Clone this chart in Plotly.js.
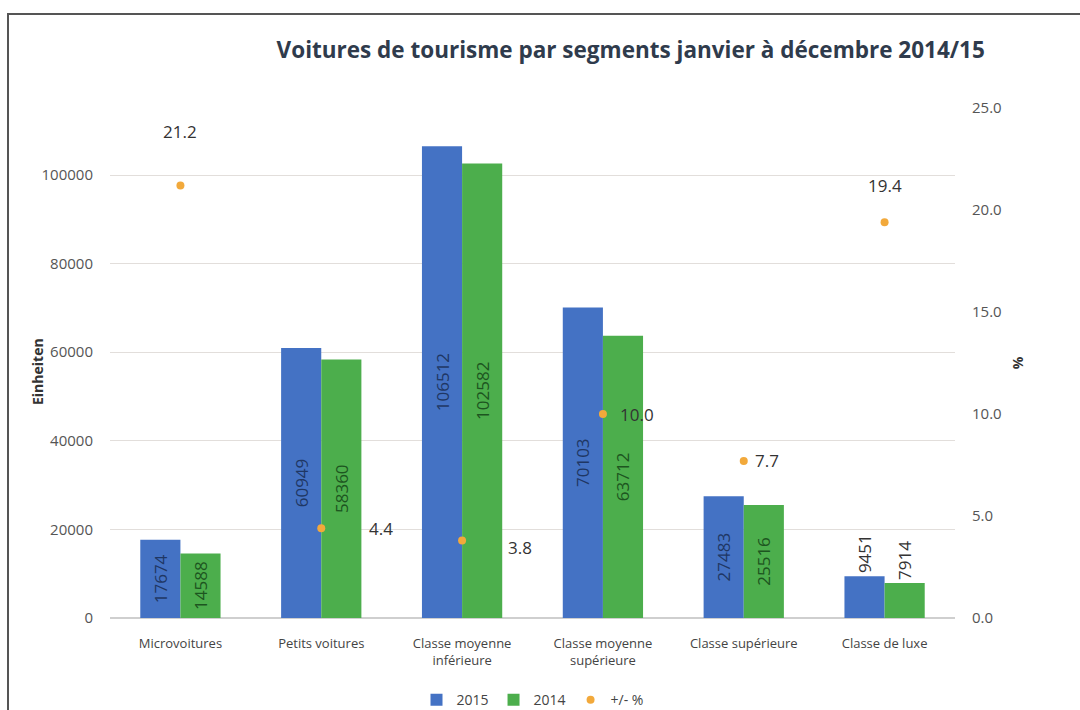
<!DOCTYPE html>
<html>
<head>
<meta charset="utf-8">
<script src="https://cdn.plot.ly/plotly-3.0.1.min.js"></script>
<style>
  html, body { margin: 0; padding: 0; background: #fff; }
  #chart { width: 1080px; height: 710px; }
  #frame { position: absolute; left: 7px; top: 13px; width: 1080px; height: 710px;
           border-left: 2px solid #555; border-top: 2px solid #555; pointer-events: none; }
</style>
</head>
<body>
<div id="chart"></div>
<div id="frame"></div>
<script>
// ---- data ----
const categories = ["Microvoitures", "Petits voitures", "Classe moyenne<br>inférieure",
                    "Classe moyenne<br>supérieure", "Classe supérieure", "Classe de luxe"];
const units2015 = [17674, 60949, 106512, 70103, 27483, 9451];
const units2014 = [14588, 58360, 102582, 63712, 25516, 7914];
const changePct = [21.2, 4.4, 3.8, 10.0, 7.7, 19.4];
const seriesNames = ["2015", "2014", "+/- %"];

// ---- style (not data) ----
const barTextPos = ["inside", "inside", "inside", "inside", "inside", "outside"];
const pctLabelShift = [[0, 54], [60, 0], [58, -7], [34, 0], [23, 0], [0, 37]];

const blue = "#4472c4", green = "#4cae4c", orange = "#f2a93b";

const traces = [
  {
    type: "bar", name: seriesNames[0], x: categories, y: units2015,
    marker: { color: blue },
    text: units2015.map(String), textposition: barTextPos, textangle: -90,
    insidetextanchor: "middle",
    insidetextfont: { family: "Open Sans", size: 17, color: "#1f3764" },
    outsidetextfont: { family: "Open Sans", size: 17, color: "#333" },
    cliponaxis: false, hoverinfo: "skip"
  },
  {
    type: "bar", name: seriesNames[1], x: categories, y: units2014,
    marker: { color: green },
    text: units2014.map(String), textposition: barTextPos, textangle: -90,
    insidetextanchor: "middle",
    insidetextfont: { family: "Open Sans", size: 17, color: "#1d5520" },
    outsidetextfont: { family: "Open Sans", size: 17, color: "#333" },
    cliponaxis: false, hoverinfo: "skip"
  },
  {
    type: "scatter", mode: "markers", name: seriesNames[2], x: categories, y: changePct,
    yaxis: "y2", marker: { color: orange, size: 8 }, cliponaxis: false, hoverinfo: "skip"
  }
];

const annotations = changePct.map((v, i) => ({
  x: categories[i], y: v, xref: "x", yref: "y2",
  text: v.toFixed(1), showarrow: false,
  xshift: pctLabelShift[i][0], yshift: pctLabelShift[i][1],
  font: { family: "Open Sans", size: 17, color: "#333" }
}));
annotations.push({
  x: 0, xref: "paper", y: 0.5, yref: "paper", xanchor: "center", yanchor: "middle",
  xshift: -73, yshift: -9, textangle: -90, showarrow: false,
  text: "<b>Einheiten</b>", font: { family: "Open Sans", size: 14, color: "#333" }
});

const layout = {
  width: 1080, height: 710,
  margin: { l: 110, r: 125, t: 108, b: 92, autoexpand: false },
  paper_bgcolor: "#fff", plot_bgcolor: "#fff",
  title: {
    text: "<b>Voitures de tourisme par segments janvier à décembre 2014/15</b>",
    font: { family: "Open Sans", size: 22.5, color: "#2f3b4c" },
    x: 0.584, xanchor: "center", y: 0.929, yanchor: "middle"
  },
  barmode: "group", bargap: 0.43, bargroupgap: 0,
  xaxis: {
    type: "category", showgrid: false, showline: false, zeroline: false,
    tickfont: { family: "Open Sans", size: 13, color: "#444" },
    ticks: "", ticklabelstandoff: 16, automargin: false
  },
  yaxis: {
    range: [0, 115124], tickvals: [0, 20000, 40000, 60000, 80000, 100000],
    ticktext: ["0", "20000", "40000", "60000", "80000", "100000"],
    showgrid: true, gridcolor: "#e2dedb", gridwidth: 1,
    zeroline: true, zerolinecolor: "#cfcfcf", zerolinewidth: 1.5,
    showline: false, ticks: "", ticklabelstandoff: 16,
    tickfont: { family: "Open Sans", size: 15, color: "#555" },
    automargin: false
  },
  yaxis2: {
    overlaying: "y", side: "right", range: [0, 25], tickvals: [0, 5, 10, 15, 20, 25],
    ticktext: ["0.0", "5.0", "10.0", "15.0", "20.0", "25.0"],
    showgrid: false, zeroline: false, showline: false, ticks: "", ticklabelstandoff: 16,
    tickfont: { family: "Open Sans", size: 15, color: "#555" },
    title: { text: "<b>%</b>", standoff: 12,
             font: { family: "Open Sans", size: 14, color: "#333" } },
    automargin: false
  },
  legend: {
    orientation: "h", x: 0.5, xanchor: "center",
    yref: "container", y: 0.014, yanchor: "middle",
    font: { family: "Open Sans", size: 14, color: "#444" },
    itemwidth: 30, traceorder: "normal"
  },
  annotations: annotations,
  showlegend: true
};

Plotly.newPlot("chart", traces, layout, { displayModeBar: false, staticPlot: true });
</script>
</body>
</html>
